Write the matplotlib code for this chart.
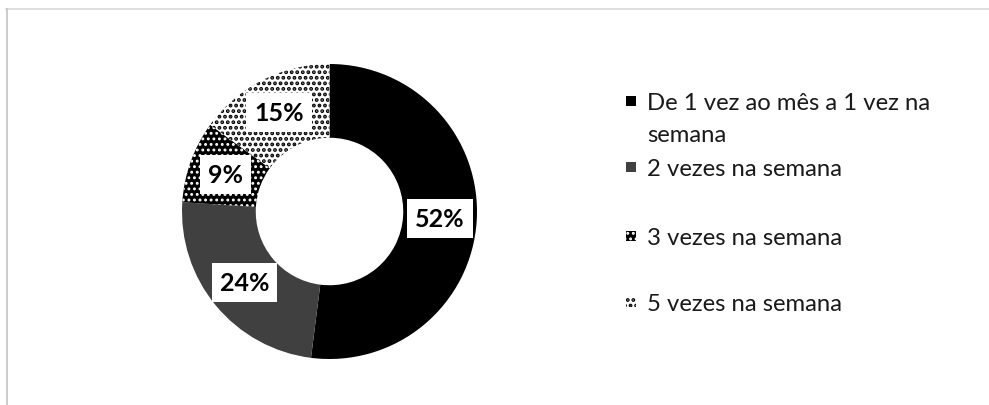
import matplotlib
matplotlib.use("Agg")
import matplotlib.pyplot as plt
from matplotlib.patches import Rectangle
from matplotlib.lines import Line2D
import numpy as np

# ---- data ----
categories = ["De 1 vez ao mês a 1 vez na\nsemana", "2 vezes na semana",
              "3 vezes na semana", "5 vezes na semana"]
values = [52, 24, 9, 15]
pct_labels = ["52%", "24%", "9%", "15%"]

# ---- style ----
face_colors = ["#000000", "#404040", "#000000", "#ffffff"]
hatch_colors = [None, None, "#ffffff", "#000000"]
hatches = [None, None, "...", "..."]
hatch_lws = [None, None, 1.3, 1.9]

plt.rcParams['font.family'] = ['Lato', 'DejaVu Sans']
plt.rcParams['hatch.linewidth'] = 1.6

W, H = 989, 406
fig = plt.figure(figsize=(W / 100, H / 100), dpi=100)

# donut axes: center (329.5, 212.5) px, radius 147.5 px
cx, cy, R = 329.5, 212.5, 147.5
ax = fig.add_axes([(cx - R) / W, (H - cy - R) / H, 2 * R / W, 2 * R / H])

wedges, _ = ax.pie(values, startangle=90, counterclock=False, radius=1,
                   colors=face_colors,
                   wedgeprops=dict(width=0.5, linewidth=0, edgecolor='none'))
ax.set_xlim(-1, 1)
ax.set_ylim(-1, 1)
ax.set_aspect('equal')
ax.axis('off')


def apply_hatch(p, hc, ht, hlw):
    if ht:
        p.set_hatch(ht)
        p.set_edgecolor(hc)
        p.set_linewidth(0)
        if hasattr(p, 'set_hatch_linewidth'):
            p.set_hatch_linewidth(hlw)


for w, hc, ht, hlw in zip(wedges, hatch_colors, hatches, hatch_lws):
    apply_hatch(w, hc, ht, hlw)

# percentage labels at mid-angle of each slice
cum = np.cumsum([0] + values)
total = float(sum(values))
for i, lab in enumerate(pct_labels):
    mid = 90 - 360 * (cum[i] + values[i] / 2) / total
    r = 0.75
    x, y = r * np.cos(np.radians(mid)), r * np.sin(np.radians(mid))
    ax.text(x, y, lab, ha='center', va='center', fontsize=18,
            fontweight='bold', color='#000000',
            bbox=dict(boxstyle='square,pad=0.32', fc='white', ec='none'))

# manual legend (Excel-style, top aligned rows)
leg_x = 626
leg_rows_y = [102, 168, 237, 303]
line_step = 31
sq = 10
for i, (lab, fc, hc, ht, hlw) in enumerate(zip(categories, face_colors, hatch_colors,
                                               hatches, hatch_lws)):
    yc = leg_rows_y[i]
    rect = Rectangle((leg_x / W, (H - yc - sq / 2) / H), sq / W, sq / H,
                     transform=fig.transFigure, facecolor=fc, linewidth=0)
    apply_hatch(rect, hc, ht, hlw)
    fig.patches.append(rect)
    for j, line in enumerate(lab.split('\n')):
        fig.text((leg_x + 21) / W, (H - yc - j * line_step) / H, line,
                 ha='left', va='center_baseline', fontsize=17.2, color='#1a1a1a')

# outer frame lines (top and left)
fig.add_artist(Line2D([6 / W, 1], [(H - 9.5) / H, (H - 9.5) / H],
                      transform=fig.transFigure, color='#d9d9d9', linewidth=1.2))
fig.add_artist(Line2D([6.5 / W, 6.5 / W], [0, (H - 9.5) / H],
                      transform=fig.transFigure, color='#c4c4c4', linewidth=1.2))

fig.savefig("out.png", dpi=100, facecolor='white')
